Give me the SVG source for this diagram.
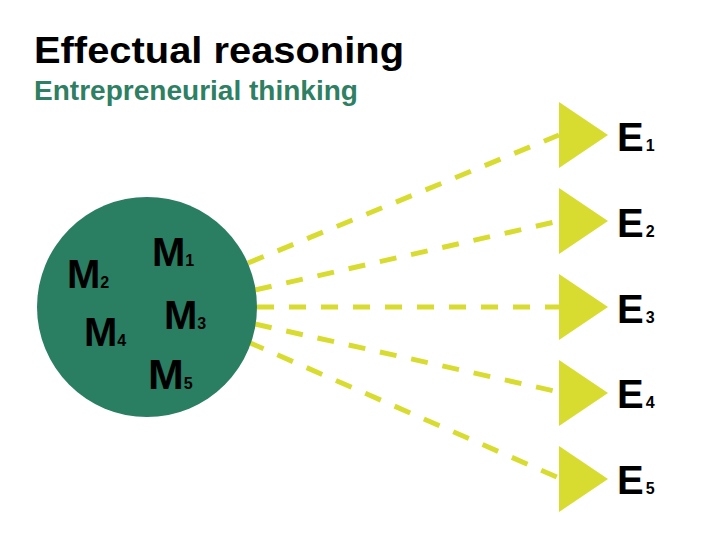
<svg xmlns="http://www.w3.org/2000/svg" width="728" height="546" viewBox="0 0 728 546">
<style>
.t{font-family:"Liberation Sans",Arial,sans-serif;font-weight:bold}
.lbl{font-family:"Liberation Sans",Arial,sans-serif;font-weight:bold;fill:#000}
.sub{font-size:16px}
.dash{stroke:#d9dc30;stroke-width:5;stroke-dasharray:17 15;fill:none}
.tri{fill:#d9dc30}
</style>
<rect width="728" height="546" fill="#fff"/>
<text class="t" x="34" y="63" font-size="37" fill="#000" textLength="370" lengthAdjust="spacingAndGlyphs">Effectual reasoning</text>
<text class="t" x="34" y="100" font-size="27" fill="#2e7f63" textLength="324" lengthAdjust="spacingAndGlyphs">Entrepreneurial thinking</text>
<g id="connectors">
<line class="dash" x1="248" y1="263" x2="559" y2="135"/>
<line class="dash" x1="255" y1="290" x2="559" y2="221"/>
<line class="dash" x1="257" y1="307" x2="559" y2="307"/>
<line class="dash" x1="255" y1="324" x2="559" y2="392"/>
<line class="dash" x1="248" y1="342" x2="559" y2="478"/>
</g>
<g id="means">
<circle cx="147" cy="307" r="110" fill="#2a7e62"/>
<text class="lbl" x="152" y="266" font-size="40">M<tspan class="sub">1</tspan></text>
<text class="lbl" x="67" y="288" font-size="40">M<tspan class="sub">2</tspan></text>
<text class="lbl" x="164" y="329" font-size="40">M<tspan class="sub">3</tspan></text>
<text class="lbl" x="84" y="346" font-size="40">M<tspan class="sub">4</tspan></text>
<text class="lbl" x="148" y="389" font-size="43">M<tspan class="sub">5</tspan></text>
</g>
<g id="e1"><polygon class="tri" points="559,102 608,135 559,168"/><text class="lbl" x="617" y="151" font-size="40">E<tspan class="sub" dx="2">1</tspan></text></g>
<g id="e2"><polygon class="tri" points="559,188 608,221 559,254"/><text class="lbl" x="617" y="237" font-size="40">E<tspan class="sub" dx="2">2</tspan></text></g>
<g id="e3"><polygon class="tri" points="559,274 608,307 559,340"/><text class="lbl" x="617" y="323" font-size="40">E<tspan class="sub" dx="2">3</tspan></text></g>
<g id="e4"><polygon class="tri" points="559,360 608,393 559,426"/><text class="lbl" x="617" y="408" font-size="40">E<tspan class="sub" dx="2">4</tspan></text></g>
<g id="e5"><polygon class="tri" points="559,446 608,479 559,512"/><text class="lbl" x="617" y="494" font-size="40">E<tspan class="sub" dx="2">5</tspan></text></g>
</svg>
